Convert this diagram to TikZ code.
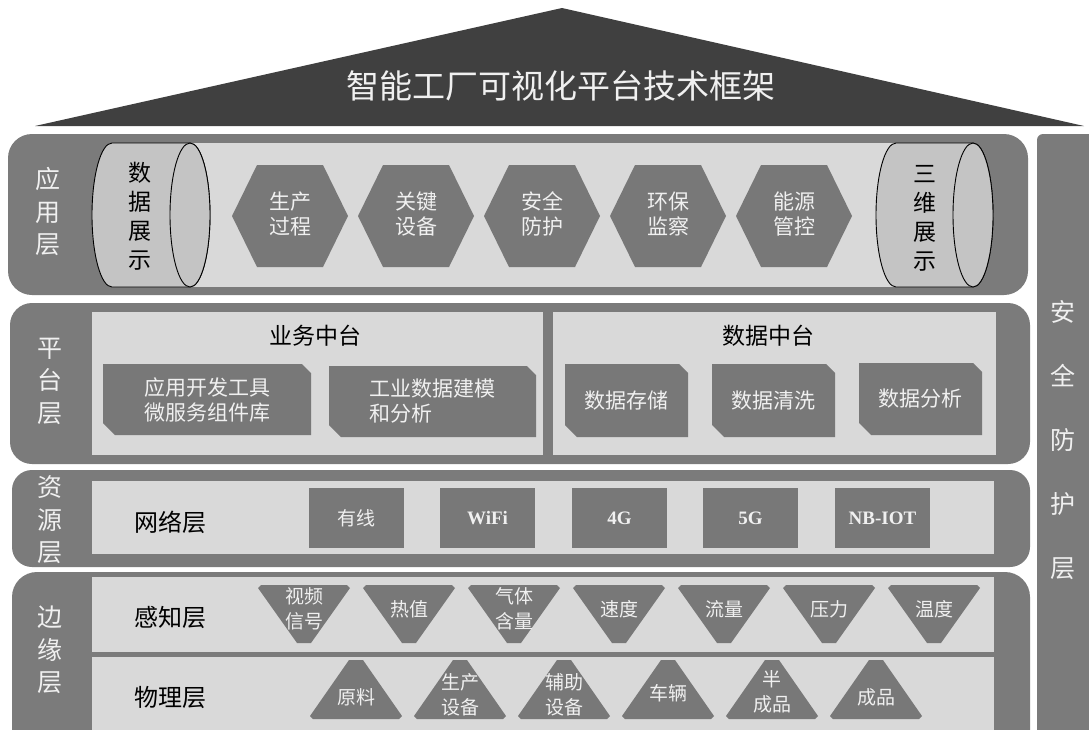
\documentclass[tikz,border=0pt]{standalone}
\usepackage{fontspec}
\setmainfont{Noto Sans CJK SC}
\newfontfamily\timesfont{Liberation Serif}
\definecolor{bandgray}{HTML}{7B7B7B}
\definecolor{innergray}{HTML}{D9D9D9}
\definecolor{roofgray}{HTML}{404040}
\definecolor{cylgray}{HTML}{C4C4C4}
\definecolor{boxgray}{HTML}{787878}
\definecolor{txtlight}{HTML}{F0F0F0}
\tikzset{
  bandbox/.style={fill=bandgray},
  innerbox/.style={fill=innergray},
  shapefill/.style={fill=boxgray},
  lighttext/.style={text=txtlight, inner sep=0pt, align=center},
  darktext/.style={text=black, inner sep=0pt, align=center},
  cylshape/.style={fill=cylgray, draw=black, line width=0.9pt},
  layerlabel/.style={lighttext, font=\fontsize{25}{32.5}\selectfont},
  sublabel/.style={darktext, font=\fontsize{24}{24}\selectfont},
}
\begin{document}
\begin{tikzpicture}[x=1pt,y=-1pt]
\useasboundingbox[fill=white] (0,0) rectangle (1089,729);

% roof
\fill[roofgray] (35,126) -- (562,8) -- (1084,126) -- cycle;
\node[lighttext, font=\fontsize{33}{33}\selectfont] (title) at (561,86) {智能工厂可视化平台技术框架};

% right bar
\fill[bandbox, rounded corners=6pt] (1037,134) rectangle (1110,760);
\node[lighttext, font=\fontsize{25}{64}\selectfont] (lblsafe) at (1063,440) {安\\全\\防\\护\\层};

% ===== application layer =====
\fill[bandbox, rounded corners=24pt] (8,134) rectangle (1028,295);
\fill[innerbox] (112,143) rectangle (973,287);
\node[layerlabel] (lblapp) at (48,212) {应\\用\\层};

% left cylinder
\filldraw[cylshape] (190,143) -- (112,143)
  arc[start angle=90, end angle=270, x radius=20pt, y radius=72pt]
  -- (190,287)
  arc[start angle=270, end angle=450, x radius=20pt, y radius=72pt] -- cycle;
\filldraw[cylshape] (190,215) ellipse[x radius=20pt, y radius=72pt];
\node[darktext, font=\fontsize{23}{29}\selectfont] (cylleft) at (140,216) {数\\据\\展\\示};

% right cylinder
\filldraw[cylshape] (973,143) -- (896,143)
  arc[start angle=90, end angle=270, x radius=20pt, y radius=72pt]
  -- (973,287)
  arc[start angle=270, end angle=450, x radius=20pt, y radius=72pt] -- cycle;
\filldraw[cylshape] (973,215) ellipse[x radius=20pt, y radius=72pt];
\node[darktext, font=\fontsize{23}{29}\selectfont] (cylright) at (925,218) {三\\维\\展\\示};

% hexagons
\foreach \cx/\txt [count=\i] in {290/{生产\\过程}, 416/{关键\\设备}, 542/{安全\\防护}, 668/{环保\\监察}, 794/{能源\\管控}}{
  \fill[shapefill] (\cx-58,216) -- (\cx-33,165) -- (\cx+33,165) -- (\cx+58,216)
        -- (\cx+33,267) -- (\cx-33,267) -- cycle;
  \node[lighttext, font=\fontsize{21}{25}\selectfont] (hex\i) at (\cx,214) {\txt};
}

% ===== platform layer =====
\fill[bandbox, rounded corners=22pt] (10,303) rectangle (1030,464);
\node[layerlabel] (lblplat) at (50,381) {平\\台\\层};
\fill[innerbox] (92,312) rectangle (543,455);
\fill[innerbox] (553,312) rectangle (996,455);
\node[darktext, font=\fontsize{23}{23}\selectfont] (biz) at (315,336) {业务中台};
\node[darktext, font=\fontsize{23}{23}\selectfont] (dat) at (768,336) {数据中台};

% snipped boxes
\foreach \xa/\ya/\xb/\yb/\txt/\al [count=\i] in {
   103/364/311/435/{应用开发工具\\微服务组件库}/left,
   329/366/536/437/{工业数据建模\\和分析}/left,
   565/364/688/437/{数据存储}/center,
   712/364/835/437/{数据清洗}/center,
   859/363/982/435/{数据分析}/center}{
  \fill[shapefill] (\xa,\ya) -- (\xb-9,\ya) -- (\xb,\ya+9) -- (\xb,\yb)
        -- (\xa+12,\yb) -- (\xa,\yb-12) -- cycle;
  \node[lighttext, align=\al, font=\fontsize{21}{25}\selectfont] (snip\i) at ({(\xa+\xb)/2},{(\ya+\yb)/2}) {\txt};
}

% ===== resource layer =====
\fill[bandbox, rounded corners=20pt] (12,470) rectangle (1030,567);
\node[layerlabel] (lblres) at (50,520) {资\\源\\层};
\fill[innerbox] (92,481) rectangle (994,554);
\node[sublabel] (net) at (170,522) {网络层};
\foreach \xa/\txt [count=\i] in {309/{有线}, 440/{\timesfont\bfseries WiFi}, 572/{\timesfont\bfseries 4G}, 703/{\timesfont\bfseries 5G}, 835/{\timesfont\bfseries NB-IOT}}{
  \fill[shapefill] (\xa,488) rectangle (\xa+95,548);
  \node[lighttext, font=\fontsize{19}{19}\selectfont] (net\i) at (\xa+47.5,518) {\txt};
}

% ===== edge layer =====
\fill[bandbox, rounded corners=25pt] (12,572) rectangle (1030,760);
\node[layerlabel] (lbledge) at (50,650) {边\\缘\\层};
\fill[innerbox] (92,577) rectangle (994,652);
\fill[innerbox] (92,657) rectangle (994,760);
\node[sublabel] (sense) at (170,617) {感知层};
\node[sublabel] (phys) at (170,697) {物理层};

% perception: inverted trapezoids
\foreach \txt [count=\i] in {{视频\\信号}, {热值}, {气体\\含量}, {速度}, {流量}, {压力}, {温度}}{
  \pgfmathsetmacro\cx{304+105*(\i-1)}
  \fill[shapefill] (\cx-46,588) -- (\cx-43,585) -- (\cx+43,585) -- (\cx+46,588)
        -- (\cx+7,643) -- (\cx-7,643) -- cycle;
  \node[lighttext, font=\fontsize{19}{25}\selectfont] (sen\i) at (\cx,609) {\txt};
}

% physical: upright trapezoids
\foreach \txt/\ty [count=\i] in {{原料}/697, {生产\\设备}/695, {辅助\\设备}/695, {车辆}/693, {半\\成品}/692, {成品}/697}{
  \pgfmathsetmacro\cx{356+104*(\i-1)}
  \fill[shapefill] (\cx-7,660) -- (\cx+7,660) -- (\cx+46,716) -- (\cx+43,719)
        -- (\cx-43,719) -- (\cx-46,716) -- cycle;
  \node[lighttext, font=\fontsize{19}{25}\selectfont] (phy\i) at (\cx,\ty) {\txt};
}
\end{tikzpicture}
\end{document}
